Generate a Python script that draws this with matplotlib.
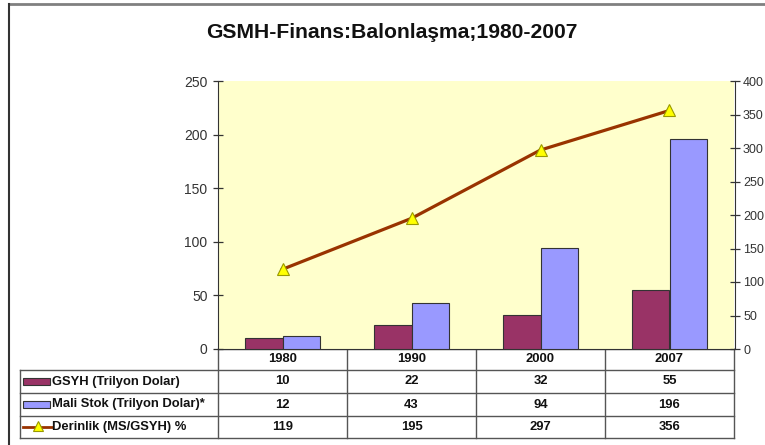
import matplotlib
matplotlib.use("Agg")
import matplotlib.pyplot as plt
from matplotlib.transforms import blended_transform_factory
from matplotlib.patches import Rectangle
from matplotlib.lines import Line2D

plt.rcParams['font.family'] = ['Liberation Sans', 'DejaVu Sans']

years = ["1980", "1990", "2000", "2007"]
gsyh = [10, 22, 32, 55]
mali_stok = [12, 43, 94, 196]
derinlik = [119, 195, 297, 356]
series_labels = ["GSYH (Trilyon Dolar)", "Mali Stok (Trilyon Dolar)*", "Derinlik (MS/GSYH) %"]
title = "GSMH-Finans:Balonlaşma;1980-2007"

W, H = 765, 445
fig = plt.figure(figsize=(W / 100, H / 100), dpi=100)
fig.patch.set_facecolor("white")

# overlay axes in pixel coordinates (y downward)
ov = fig.add_axes([0, 0, 1, 1], zorder=0)
ov.set_xlim(0, W)
ov.set_ylim(H, 0)
ov.axis("off")

# plot area
L, R, T, B = 218, 734, 81, 349
ax = fig.add_axes([L / W, (H - B) / H, (R - L) / W, (B - T) / H], zorder=2)
ax.set_facecolor("#FFFFCC")
x = list(range(len(years)))
bw = 0.29
ax.bar([i - bw / 2 for i in x], gsyh, width=bw, color="#993366", edgecolor="#333333", linewidth=0.8, zorder=3)
ax.bar([i + bw / 2 for i in x], mali_stok, width=bw, color="#9999FF", edgecolor="#333333", linewidth=0.8, zorder=3)
ax.set_xlim(-0.5, len(years) - 0.5)
ax.set_ylim(0, 250)
ax.set_yticks([0, 50, 100, 150, 200, 250])
ax.set_xticks([])
ax.spines["top"].set_visible(False)
ax.spines["left"].set_color("#333333")
ax.spines["bottom"].set_color("#333333")
ax.spines["right"].set_visible(False)
ax.tick_params(axis="y", direction="inout", length=7, width=0.9, colors="#333333",
               labelsize=10, labelcolor="#333333", pad=4)

ax2 = ax.twinx()
ax2.plot(x, derinlik, color="#993300", linewidth=2.3, marker="^", markersize=8.5,
         markerfacecolor="#FFFF00", markeredgecolor="#999900", markeredgewidth=0.8, zorder=5)
ax2.set_ylim(0, 400)
ax2.set_yticks([0, 50, 100, 150, 200, 250, 300, 350, 400])
ax2.spines["top"].set_visible(False)
ax2.spines["left"].set_visible(False)
ax2.spines["bottom"].set_visible(False)
ax2.spines["right"].set_color("#333333")
ax2.spines["right"].set_position(("outward", 1))
ax2.tick_params(axis="y", direction="inout", length=7, width=0.9, colors="#333333",
                labelsize=9, labelcolor="#333333", pad=2)

# title
ov.text(392, 33, title, ha="center", va="center", fontsize=15.2, fontweight="bold", color="#111111")

# outer frame
ov.add_line(Line2D([9, W], [4, 4], color="#808080", linewidth=2))
ov.add_line(Line2D([9, 9], [4, H], color="#333333", linewidth=1.5))

# data table
tr = blended_transform_factory(ax.transData, ov.transData)
row_y = [349, 370, 393, 416, 438]
lc = "#555555"
lw = 1.0
ov.add_line(Line2D([L, R], [row_y[0], row_y[0]], color=lc, linewidth=lw))
for yy in row_y[1:]:
    ov.add_line(Line2D([20, R], [yy, yy], color=lc, linewidth=lw))
ov.add_line(Line2D([20, 20], [row_y[1], row_y[-1]], color=lc, linewidth=lw))
for i in range(len(years) + 1):
    xv = i - 0.5
    ov.add_line(Line2D([xv, xv], [row_y[0], row_y[-1]], color=lc, linewidth=lw, transform=tr))

fs = 9.4
for i, yr in enumerate(years):
    ov.text(i, (row_y[0] + row_y[1]) / 2, yr, ha="center", va="center", fontsize=fs,
            fontweight="bold", color="#111111", transform=tr)
for r, vals in enumerate([gsyh, mali_stok, derinlik]):
    yc = (row_y[r + 1] + row_y[r + 2]) / 2
    for i, v in enumerate(vals):
        ov.text(i, yc, str(v), ha="center", va="center", fontsize=fs, fontweight="bold",
                color="#111111", transform=tr)
    ov.text(52, yc, series_labels[r], ha="left", va="center", fontsize=fs, fontweight="bold",
            color="#111111")

# legend keys
for r, col in enumerate(["#993366", "#9999FF"]):
    yc = (row_y[r + 1] + row_y[r + 2]) / 2
    ov.add_patch(Rectangle((23, yc - 3.5), 27, 7, facecolor=col, edgecolor="#333333", linewidth=0.8))
yc = (row_y[3] + row_y[4]) / 2
ov.add_line(Line2D([23, 52], [yc, yc], color="#993300", linewidth=2))
ov.plot([38], [yc - 1], marker="^", markersize=7, markerfacecolor="#FFFF00",
        markeredgecolor="#999900", markeredgewidth=0.8)

fig.savefig("out.png", dpi=100)
